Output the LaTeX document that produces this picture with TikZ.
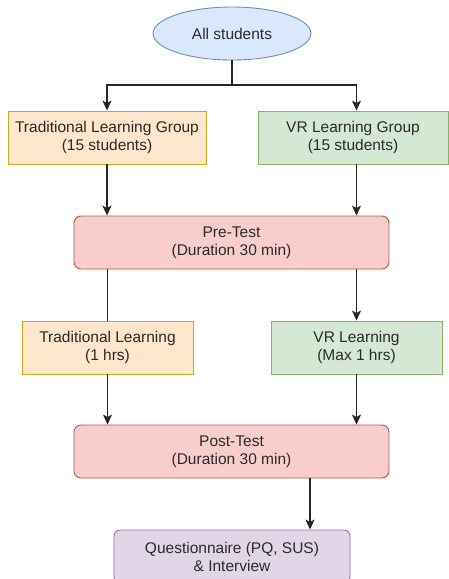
\documentclass[tikz,border=0pt]{standalone}
\usepackage{fontspec}
\setmainfont{Liberation Sans}
\usetikzlibrary{shapes.geometric,arrows.meta}
\definecolor{bfill}{HTML}{DAE8FC}\definecolor{bline}{HTML}{6C8EBF}
\definecolor{ofill}{HTML}{FFE6CC}\definecolor{oline}{HTML}{D6A520}
\definecolor{gfill}{HTML}{D5E8D4}\definecolor{gline}{HTML}{82B366}
\definecolor{rfill}{HTML}{F8CECC}\definecolor{rline}{HTML}{B85450}
\definecolor{pfill}{HTML}{E1D5E7}\definecolor{pline}{HTML}{9673A6}
\definecolor{txt}{HTML}{2A2A2A}
\tikzset{
  base/.style={font=\fontsize{15.5}{18}\selectfont, text=txt, align=center, inner sep=0pt, line width=0.9pt, minimum height=53pt},
  orangebox/.style={base, draw=oline, fill=ofill},
  greenbox/.style={base, draw=gline, fill=gfill},
  redbox/.style={base, draw=rline, fill=rfill, rounded corners=7pt},
  purplebox/.style={base, draw=pline, fill=pfill, rounded corners=6pt},
  startell/.style={base, ellipse, draw=bline, fill=bfill},
  conn/.style={line width=1.2pt, draw=black!85},
  arr/.style={conn, -{Stealth[length=10pt,width=9pt,inset=2.5pt]}}
}
\begin{document}
\begin{tikzpicture}[x=1pt,y=-1pt]
\useasboundingbox[fill=white] (0,0) rectangle (449,579);
\node[startell, minimum width=158pt] (all) at (232,33.5) {All students};
\node[orangebox, minimum width=198pt] (tlg) at (107,137.5) {Traditional Learning Group\\(15 students)};
\node[greenbox, minimum width=190pt] (vrg) at (353,137.5) {VR Learning Group\\(15 students)};
\node[redbox, minimum width=315pt] (pre) at (231.5,242.5) {Pre-Test\\(Duration 30 min)};
\node[orangebox, minimum width=171pt] (tl) at (107.5,347.5) {Traditional Learning\\(1 hrs)};
\node[greenbox, minimum width=171pt] (vrl) at (356.5,347.5) {VR Learning\\(Max 1 hrs)};
\node[redbox, minimum width=315pt] (post) at (231.5,451.5) {Post-Test\\(Duration 30 min)};
\node[purplebox, minimum width=236pt] (q) at (232,556.5) {Questionnaire (PQ, SUS)\\\& Interview};
\coordinate (j) at (232,85);
\coordinate (pq) at (310,478);
\draw[conn] (all.south) -- (j);
\draw[arr] (j) -| (tlg.north);
\draw[arr] (j) -| (vrl.north |- vrg.north);
\draw[arr] (tlg.south) -- (tlg.south |- pre.north);
\draw[arr] (vrl.north |- vrg.south) -- (vrl.north |- pre.north);
\draw[conn] (tl.north |- pre.south) -- (tl.north);
\draw[arr] (vrl.north |- pre.south) -- (vrl.north);
\draw[arr] (tl.south) -- (tl.south |- post.north);
\draw[arr] (vrl.south) -- (vrl.south |- post.north);
\draw[arr] (pq) -- (pq |- q.north);
\end{tikzpicture}
\end{document}
